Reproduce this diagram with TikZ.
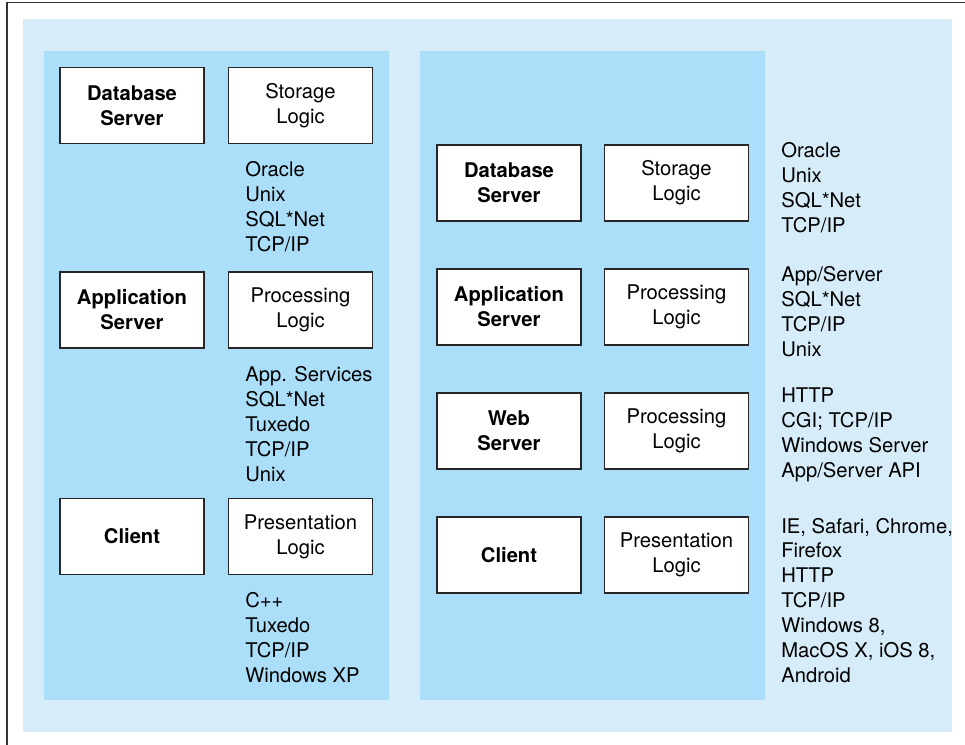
\documentclass[tikz,border=0pt]{standalone}
\usepackage{fontspec}
\setmainfont{TeX Gyre Heros}
\usepackage{xcolor}
\definecolor{paleblue}{RGB}{214,236,249}
\definecolor{tierblue}{RGB}{171,223,249}
\usetikzlibrary{positioning}

\begin{document}
\begin{tikzpicture}[
    tier/.style={draw=black!85, line width=0.6pt, fill=white, align=center,
                 font=\fontsize{11.5}{14.2}\selectfont, inner sep=2pt,
                 minimum width=2.88cm, minimum height=1.52cm},
    host/.style={tier, font=\fontsize{11.5}{14.2}\selectfont\bfseries},
    stack/.style={anchor=west, align=left, inner sep=0pt,
                  font=\fontsize{11.5}{14.2}\selectfont},
]
\useasboundingbox (0,0) rectangle (19.3,14.9);
\draw[black!80, line width=1pt] (0.134,0) -- (0.134,14.85) -- (19.3,14.85);
\fill[paleblue] (0.46,0.26) rectangle (19.04,14.52);
\fill[tierblue] (0.88,0.90) rectangle (7.78,13.88);
\fill[tierblue] (8.40,0.90) rectangle (15.30,13.88);
% three tiers
\node[host] (ldb)    at (2.64,12.79) {Database\\Server};
\node[tier] (lstore) at (6.01,12.79) {Storage\\Logic};
\node[host] (lapp)   at (2.64,8.70)  {Application\\Server};
\node[tier] (lproc)  at (6.01,8.70)  {Processing\\Logic};
\node[host] (lcli)   at (2.64,4.17)  {Client};
\node[tier] (lpres)  at (6.01,4.17)  {Presentation\\Logic};
\node[stack] (lsw1) at (4.90,10.76) {Oracle\\Unix\\SQL*Net\\TCP/IP};
\node[stack] (lsw2) at (4.90,6.42)  {App. Services\\SQL*Net\\Tuxedo\\TCP/IP\\Unix};
\node[stack] (lsw3) at (4.90,2.14)  {C++\\Tuxedo\\TCP/IP\\Windows XP};
% four tiers
\node[host] (rdb)    at (10.18,11.24) {Database\\Server};
\node[tier] (rstore) at (13.53,11.24) {Storage\\Logic};
\node[host] (rapp)   at (10.18,8.76)  {Application\\Server};
\node[tier] (rproc)  at (13.53,8.76)  {Processing\\Logic};
\node[host] (rweb)   at (10.18,6.28)  {Web\\Server};
\node[tier] (rwproc) at (13.53,6.28)  {Processing\\Logic};
\node[host] (rcli)   at (10.18,3.80)  {Client};
\node[tier] (rpres)  at (13.53,3.80)  {Presentation\\Logic};
\node[stack] (rsw1) at (15.62,11.15) {Oracle\\Unix\\SQL*Net\\TCP/IP};
\node[stack] (rsw2) at (15.62,8.67)  {App/Server\\SQL*Net\\TCP/IP\\Unix};
\node[stack] (rsw3) at (15.62,6.21)  {HTTP\\CGI; TCP/IP\\Windows Server\\App/Server API};
\node[stack] (rsw4) at (15.62,2.89)  {IE, Safari, Chrome,\\Firefox\\HTTP\\TCP/IP\\Windows 8,\\MacOS X, iOS 8,\\Android};
\end{tikzpicture}
\end{document}
